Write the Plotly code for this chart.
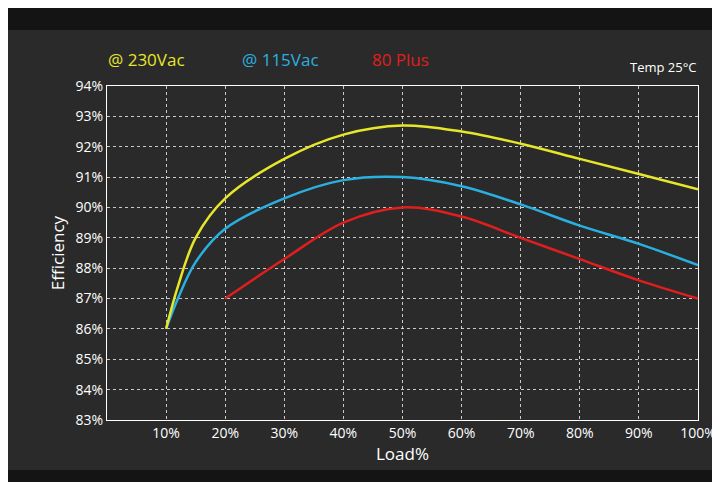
import plotly.graph_objects as go

load = [10, 12, 15, 20, 30, 40, 50, 60, 70, 80, 90, 100]
eff_230 = [86.0, 87.4, 89.0, 90.3, 91.6, 92.4, 92.7, 92.5, 92.1, 91.6, 91.1, 90.6]
eff_115 = [86.0, 87.0, 88.2, 89.3, 90.3, 90.9, 91.0, 90.7, 90.1, 89.4, 88.8, 88.1]
load_80 = [20, 30, 40, 50, 60, 70, 80, 90, 100]
eff_80 = [87.0, 88.3, 89.5, 90.0, 89.7, 89.0, 88.3, 87.6, 87.0]

W, H = 720, 482
l, r, t, b = 99, 30, 78, 70
pw, ph = W - l - r, H - t - b

def px(x, y):
    # page pixel -> paper coords
    return (x - l) / pw, 1 - (y - t) / ph

fig = go.Figure()
fig.add_trace(go.Scatter(x=load_80, y=eff_80, mode='lines', line=dict(color='#e01e1e', width=2.5, shape='spline'), name='80 Plus'))
fig.add_trace(go.Scatter(x=load, y=eff_115, mode='lines', line=dict(color='#2ab0e0', width=2.5, shape='spline'), name='@ 115Vac'))
fig.add_trace(go.Scatter(x=load, y=eff_230, mode='lines', line=dict(color='#e6e62a', width=2.5, shape='spline'), name='@ 230Vac'))

grid = dict(showgrid=True, gridcolor='rgba(255,255,255,0.75)', griddash='dot', gridwidth=1,
            zeroline=False, showline=True, linecolor='white', mirror=True, automargin=False,
            tickfont=dict(color='white', size=14, family='Open Sans'))

labels = [('@ 230Vac', 98, 52, '#e6e62a', 17), ('@ 115Vac', 232, 52, '#2ab0e0', 17),
          ('80 Plus', 362, 52, '#e01e1e', 17), ('Temp 25°C', 620, 59, 'white', 13)]
annotations = []
for text, x, y, c, s in labels:
    ax, ay = px(x, y)
    annotations.append(dict(text=text, x=ax, y=ay, xref='paper', yref='paper', showarrow=False,
                            xanchor='left', yanchor='middle', font=dict(color=c, size=s)))

shapes = []
for y0, y1 in [(0, 22), (462, 482)]:
    x0p, y0p = px(0, y0)
    x1p, y1p = px(W, y1)
    shapes.append(dict(type='rect', xref='paper', yref='paper', x0=x0p, x1=x1p, y0=y0p, y1=y1p,
                       fillcolor='#141414', line_width=0, layer='below'))

fig.update_layout(
    width=W, height=H,
    paper_bgcolor='#2a2a2a', plot_bgcolor='rgba(0,0,0,0)',
    margin=dict(l=l, r=r, t=t, b=b, autoexpand=False),
    showlegend=False,
    font=dict(family='Open Sans', color='white'),
    xaxis=dict(range=[0, 100], tickvals=list(range(10, 101, 10)),
               ticktext=[f'{v}%' for v in range(10, 101, 10)],
               title=dict(text='Load%', font=dict(size=17), standoff=4), **grid),
    yaxis=dict(range=[83, 94], dtick=1, ticksuffix='%',
               title=dict(text='Efficiency', font=dict(size=17), standoff=6), **grid),
    shapes=shapes,
    annotations=annotations,
)

fig.write_html("out.html")
